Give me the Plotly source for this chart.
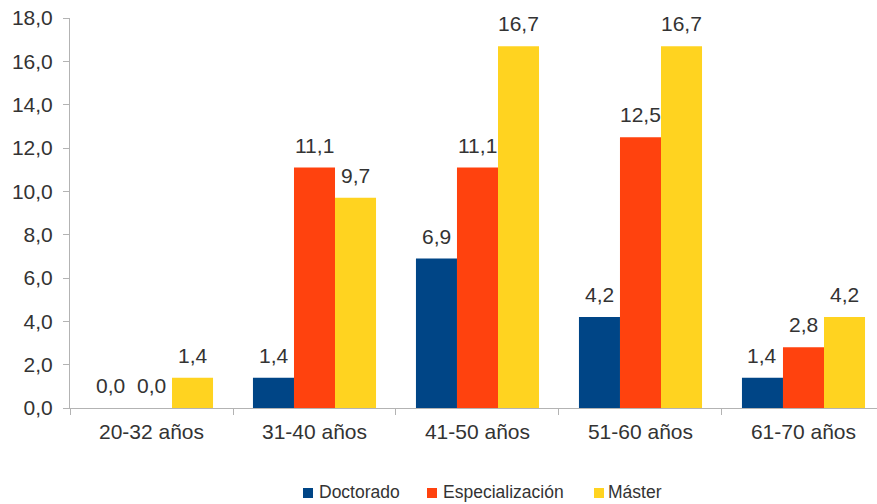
import plotly.graph_objects as go

categories = ["20-32 años", "31-40 años", "41-50 años", "51-60 años", "61-70 años"]
doctorado = [0.0, 1.4, 6.9, 4.2, 1.4]
especializacion = [0.0, 11.1, 11.1, 12.5, 2.8]
master = [1.4, 9.7, 16.7, 16.7, 4.2]

series = [
    ("Doctorado", doctorado, "#004586"),
    ("Especialización", especializacion, "#ff420e"),
    ("Máster", master, "#ffd320"),
]

FONT = "Liberation Sans, Arial, sans-serif"
TEXT = "#333333"
AXIS = "#b3b3b3"

# plot area in pixels: x 70..877, y 18..408
PLOT_L, PLOT_W, PLOT_B, PLOT_H = 70, 807, 408, 390


def px_x(px):
    return (px - PLOT_L) / PLOT_W


def px_y(py):
    return (PLOT_B - py) / PLOT_H


fig = go.Figure()
for name, vals, color in series:
    fig.add_trace(go.Bar(x=categories, y=vals, name=name, marker_color=color,
                         marker_line_width=0, showlegend=False))

# value labels above each bar, offset horizontally to the bar's slot in its group
bar_px = 41
annotations = []
for i, (name, vals, color) in enumerate(series):
    for cat, v in zip(categories, vals):
        annotations.append(dict(
            x=cat, y=v, xref="x", yref="y",
            text=f"{v:.1f}".replace(".", ","),
            showarrow=False, yanchor="bottom", xanchor="center",
            xshift=(i - 1) * bar_px, yshift=9,
            font=dict(family=FONT, size=21, color=TEXT),
        ))

# legend row below the axis: colour swatch followed by series name
shapes = []
legend_swatch_left = [303, 427, 594]
legend_text_left = [317, 441, 606]
for (name, vals, color), sx, tx in zip(series, legend_swatch_left, legend_text_left):
    shapes.append(dict(type="rect", xref="paper", yref="paper",
                       x0=px_x(sx), x1=px_x(sx + 10), y0=px_y(498), y1=px_y(488),
                       fillcolor=color, line_width=0))
    annotations.append(dict(x=px_x(tx), y=px_y(492), xref="paper", yref="paper",
                            text=name, showarrow=False, xanchor="left", yanchor="middle",
                            font=dict(family=FONT, size=17.5, color=TEXT)))

fig.update_layout(
    width=877, height=504,
    margin=dict(l=70, r=0, t=18, b=96),
    paper_bgcolor="white", plot_bgcolor="white",
    barmode="group", bargap=0.245, bargroupgap=0,
    separators=",.",
    font=dict(family=FONT, color=TEXT),
    annotations=annotations,
    shapes=shapes,
    showlegend=False,
)
fig.update_xaxes(
    type="category", range=[-0.5, 4.451],
    showline=True, linecolor=AXIS, linewidth=1,
    ticks="outside", tickson="boundaries", ticklen=6, tickcolor=AXIS,
    showgrid=False, ticklabelstandoff=5,
    tickfont=dict(family=FONT, size=21, color=TEXT),
)
fig.update_yaxes(
    range=[0, 18], dtick=2, tickformat=".1f",
    showline=True, linecolor=AXIS, linewidth=1,
    ticks="outside", ticklen=6, tickcolor=AXIS,
    showgrid=False, zeroline=False, ticklabelstandoff=6,
    tickfont=dict(family=FONT, size=21, color=TEXT),
)

fig.write_html("out.html")
